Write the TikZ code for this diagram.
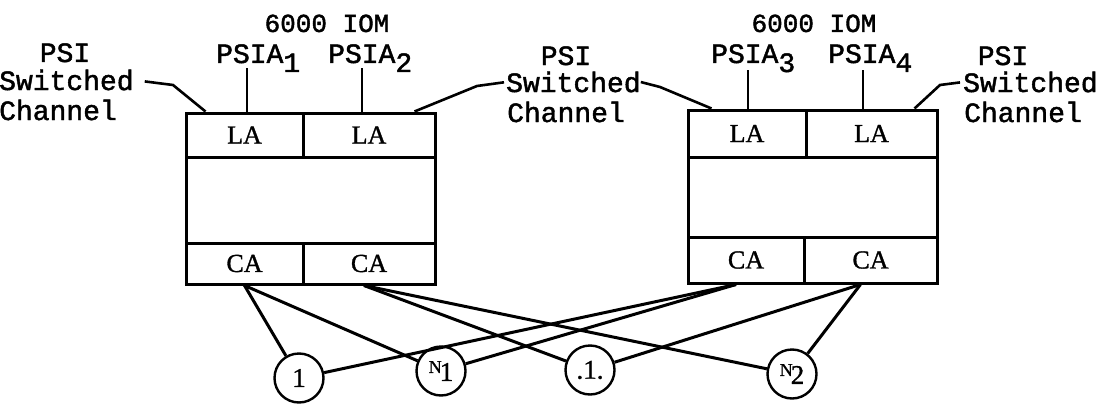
\documentclass[tikz,border=0pt]{standalone}
\usepackage{fontspec}
\setmainfont{Liberation Serif}[RawFeature={embolden=1.2}]
\newfontfamily\typew{Liberation Mono}[RawFeature={embolden=1.6}]
\usetikzlibrary{calc}

\begin{document}
\begin{tikzpicture}[x=1pt,y=-1pt,
  cell/.style={draw, line width=3pt, inner sep=0pt,
    font=\fontsize{26}{26}\selectfont},
  mono/.style={inner sep=0pt, font=\typew\fontsize{28}{28}\selectfont},
  iom/.style={inner sep=0pt, font=\typew\fontsize{26}{26}\selectfont},
  leader/.style={line width=2.6pt},
  tick/.style={line width=1.5pt},
  wire/.style={line width=3pt},
  port/.style={circle, draw, line width=2.4pt, minimum size=49pt, inner sep=0pt,
    font=\fontsize{27}{27}\selectfont}
]
\useasboundingbox (0,0) rectangle (1107,404);

% ---- left 6000 IOM ----
\node[cell, minimum width=117pt, minimum height=44pt] (la1) at (244.5,135) {LA};
\node[cell, minimum width=132pt, minimum height=44pt] (la2) at (369,135) {LA};
\node[cell, minimum width=249pt, minimum height=86pt] (m1) at (310.5,200) {};
\node[cell, minimum width=117pt, minimum height=41pt] (ca1) at (244.5,263.5) {CA};
\node[cell, minimum width=132pt, minimum height=41pt] (ca2) at (369,263.5) {CA};

% ---- right 6000 IOM ----
\node[cell, minimum width=118pt, minimum height=47pt] (la3) at (747,133.5) {LA};
\node[cell, minimum width=131pt, minimum height=47pt] (la4) at (871.5,133.5) {LA};
\node[cell, minimum width=249pt, minimum height=80pt] (m2) at (812.5,197) {};
\node[cell, minimum width=116pt, minimum height=46pt] (ca3) at (746,260) {CA};
\node[cell, minimum width=133pt, minimum height=46pt] (ca4) at (870.5,260) {CA};

% ---- headings ----
\node[iom, anchor=base] (iom1) at (327,32) {6000 IOM};
\node[iom, anchor=base] (iom2) at (814,32) {6000 IOM};
\node[mono, anchor=base west] (p1) at (216,63) {PSIA\raisebox{-9pt}{1}};
\node[mono, anchor=base west] (p2) at (328,63) {PSIA\raisebox{-9pt}{2}};
\node[mono, anchor=base west] (p3) at (711,63) {PSIA\raisebox{-9pt}{3}};
\node[mono, anchor=base west] (p4) at (828,63) {PSIA\raisebox{-9pt}{4}};

\coordinate (t1) at (247,68);
\coordinate (t2) at (362,68);
\coordinate (t3) at (748,70);
\coordinate (t4) at (863,70);
\draw[tick] (t1) -- (t1 |- la1.north);
\draw[tick] (t2) -- (t2 |- la2.north);
\draw[tick] (t3) -- (t3 |- la3.north);
\draw[tick] (t4) -- (t4 |- la4.north);

% ---- PSI switched channel labels ----
\node[mono, anchor=base] (psi1) at (65,62) {PSI};
\node[mono, anchor=base west] (sw1) at (-1,90) {Switched};
\node[mono, anchor=base west] (ch1) at (-1,120) {Channel};

\node[mono, anchor=base] (psi2) at (566,65) {PSI};
\node[mono, anchor=base west] (sw2) at (506,92) {Switched};
\node[mono, anchor=base west] (ch2) at (507,122) {Channel};

\node[mono, anchor=base] (psi3) at (1003,65) {PSI};
\node[mono, anchor=base west] (sw3) at (963,92) {Switched};
\node[mono, anchor=base west] (ch3) at (964,122) {Channel};

\coordinate (k1) at (173,85);
\coordinate (k2) at (477,86);
\coordinate (k3) at (660,87);
\coordinate (k4) at (940,85);
\draw[leader, shorten <=11pt] (sw1.east) -- (k1) -- ($(la1.north west)+(21,0)$);
\draw[leader, shorten <=2pt] (sw2.west) -- (k2) -- ($(la2.north east)+(-22,0)$);
\draw[leader] (sw2.east) -- (k3) -- ($(la3.north west)+(25,0)$);
\draw[leader, shorten <=3pt] (sw3.west) -- (k4) -- ($(la4.north east)+(-24,0)$);

% ---- channel ports ----
\node[port] (c1) at (299,378) {1};
\node[port] (n1) at (441,371) {\raisebox{8pt}{\fontsize{18}{18}\selectfont N}\kern-2pt 1};
\node[port] (d1) at (590,370) {.1.};
\node[port] (n2) at (792,374) {\raisebox{8pt}{\fontsize{18}{18}\selectfont N}\kern-2pt 2};

% ---- cross connections ----
\draw[wire] (ca1.south) -- (c1);
\draw[wire] (ca1.south) -- (n1);
\draw[wire] ($(ca2.south)+(-5,0)$) -- (d1);
\draw[wire] ($(ca2.south)+(-5,0)$) -- (n2);
\draw[wire] ($(ca3.south)+(-10,0)$) -- (c1);
\draw[wire] ($(ca3.south)+(-10,0)$) -- (n1);
\draw[wire] ($(ca4.south)+(-10,0)$) -- (d1);
\draw[wire] ($(ca4.south)+(-10,0)$) -- (n2);
\end{tikzpicture}
\end{document}
